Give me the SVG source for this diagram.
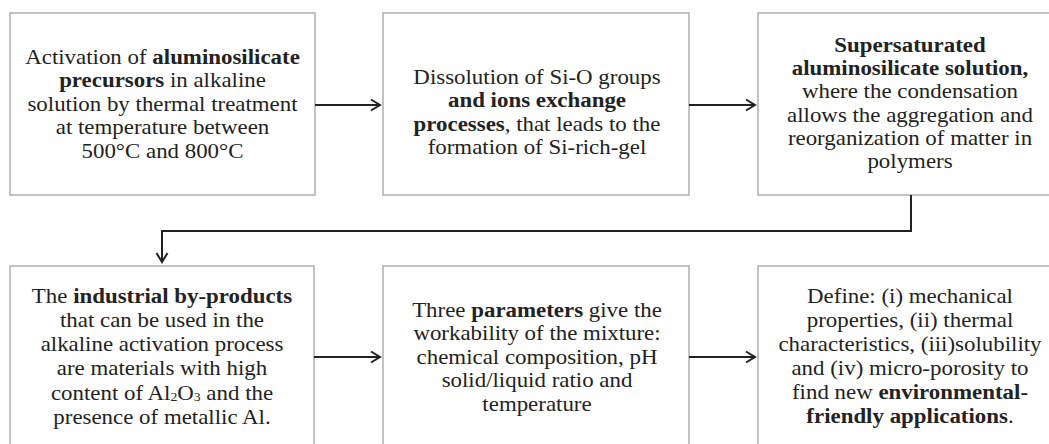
<svg xmlns="http://www.w3.org/2000/svg" width="1049" height="444" viewBox="0 0 1049 444">
<style>
.box{fill:#fff;stroke:#b4b4b4;stroke-width:1.6}
.t{font-family:"Liberation Serif","Times New Roman",serif;font-size:20px;fill:#222;text-anchor:middle}
.b{font-weight:bold}
.c{fill:none;stroke:#222;stroke-width:2}
</style>
<defs>
<marker id="ah" markerUnits="userSpaceOnUse" markerWidth="14" markerHeight="14" viewBox="0 0 14 14" refX="12" refY="7" orient="auto">
<path d="M3,1.5 L12,7 L3,12.5" fill="none" stroke="#222" stroke-width="2"/>
</marker>
</defs>
<rect width="1049" height="444" fill="#fff"/>
<g id="node1">
<rect class="box" x="10" y="13" width="305" height="182"/>
<g transform="translate(162.5 0) scale(1.145 1)">
<text class="t" x="0" y="64">Activation of <tspan class="b">aluminosilicate</tspan></text>
<text class="t" x="0" y="87.5"><tspan class="b">precursors</tspan> in alkaline</text>
<text class="t" x="0" y="111">solution by thermal treatment</text>
<text class="t" x="0" y="134.5">at temperature between</text>
<text class="t" x="0" y="158">500°C and 800°C</text>
</g>
</g>
<g id="node2">
<rect class="box" x="383" y="13" width="306" height="182"/>
<g transform="translate(537 0) scale(1.145 1)">
<text class="t" x="0" y="84">Dissolution of Si-O groups</text>
<text class="t" x="0" y="107.5"><tspan class="b">and ions exchange</tspan></text>
<text class="t" x="0" y="131"><tspan class="b">processes</tspan>, that leads to the</text>
<text class="t" x="0" y="154">formation of Si-rich-gel</text>
</g>
</g>
<g id="node3">
<rect class="box" x="758" y="13" width="310" height="182"/>
<g transform="translate(910 0) scale(1.145 1)">
<text class="t" x="0" y="52"><tspan class="b">Supersaturated</tspan></text>
<text class="t" x="0" y="75"><tspan class="b">aluminosilicate solution,</tspan></text>
<text class="t" x="0" y="98.5">where the condensation</text>
<text class="t" x="0" y="122">allows the aggregation and</text>
<text class="t" x="0" y="145.5">reorganization of matter in</text>
<text class="t" x="0" y="168.5">polymers</text>
</g>
</g>
<g id="node4">
<rect class="box" x="10" y="266" width="304" height="200"/>
<g transform="translate(162 0) scale(1.145 1)">
<text class="t" x="0" y="303">The <tspan class="b">industrial by-products</tspan></text>
<text class="t" x="0" y="327">that can be used in the</text>
<text class="t" x="0" y="351">alkaline activation process</text>
<text class="t" x="0" y="375">are materials with high</text>
<text class="t" x="0" y="400">content of Al<tspan font-size="12" dy="1">2</tspan><tspan dy="-1">O</tspan><tspan font-size="12" dy="1">3</tspan><tspan dy="-1"> and the</tspan></text>
<text class="t" x="0" y="424">presence of metallic Al.</text>
</g>
</g>
<g id="node5">
<rect class="box" x="383" y="266" width="306" height="200"/>
<g transform="translate(537 0) scale(1.145 1)">
<text class="t" x="0" y="317">Three <tspan class="b">parameters</tspan> give the</text>
<text class="t" x="0" y="340">workability of the mixture:</text>
<text class="t" x="0" y="364">chemical composition, pH</text>
<text class="t" x="0" y="387.5">solid/liquid ratio and</text>
<text class="t" x="0" y="411">temperature</text>
</g>
</g>
<g id="node6">
<rect class="box" x="758" y="266" width="310" height="200"/>
<g transform="translate(910 0) scale(1.145 1)">
<text class="t" x="0" y="303">Define: (i) mechanical</text>
<text class="t" x="0" y="327">properties, (ii) thermal</text>
<text class="t" x="0" y="351">characteristics, (iii)solubility</text>
<text class="t" x="0" y="375">and (iv) micro-porosity to</text>
<text class="t" x="0" y="399">find new <tspan class="b">environmental-</tspan></text>
<text class="t" x="0" y="423"><tspan class="b">friendly applications</tspan>.</text>
</g>
</g>
<g id="connectors">
<path class="c" d="M315,105 H380" marker-end="url(#ah)"/>
<path class="c" d="M689,105 H755" marker-end="url(#ah)"/>
<path class="c" d="M911,195 V231 H162 V262" marker-end="url(#ah)"/>
<path class="c" d="M314,357 H380" marker-end="url(#ah)"/>
<path class="c" d="M689,357 H755" marker-end="url(#ah)"/>
</g>
</svg>
